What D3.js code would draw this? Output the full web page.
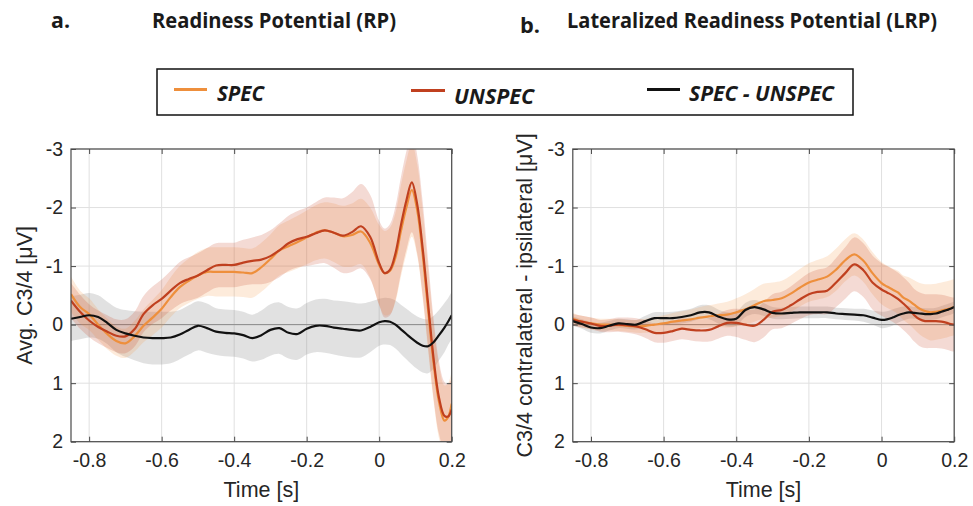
<!DOCTYPE html>
<html>
<head>
<meta charset="utf-8">
<script src="https://cdn.jsdelivr.net/npm/d3@7"></script>
<style>
  body { margin: 0; background: #fff; }
  svg { display: block; }
</style>
</head>
<body>
<svg id="chart" width="973" height="506"></svg>
<script>
// time points (s) shared by every series
const time = [
  -0.85, -0.825, -0.8, -0.775, -0.75, -0.725, -0.7, -0.675, -0.65, -0.625,
  -0.6, -0.575, -0.55, -0.525, -0.5, -0.475, -0.45, -0.425, -0.4, -0.375,
  -0.35, -0.325, -0.3, -0.275, -0.25, -0.225, -0.2, -0.175, -0.15, -0.125,
  -0.1, -0.075, -0.05, -0.025, 0, 0.015, 0.03, 0.045, 0.06, 0.075,
  0.09, 0.105, 0.12, 0.135, 0.15, 0.165, 0.18, 0.19, 0.2
];

// a. Readiness Potential (uV)
const rpSpec = [
  -0.52, -0.30, -0.18, 0.00, 0.16, 0.28, 0.32, 0.20, 0.02, -0.12,
  -0.27, -0.47, -0.64, -0.75, -0.84, -0.90, -0.90, -0.90, -0.90, -0.89,
  -0.88, -0.98, -1.12, -1.27, -1.34, -1.41, -1.49, -1.57, -1.61, -1.57,
  -1.51, -1.53, -1.59, -1.40, -1.02, -0.88, -0.92, -1.15, -1.60, -2.00,
  -2.30, -1.95, -1.20, -0.25, 0.65, 1.32, 1.64, 1.58, 1.35
];
const rpUnspec = [
  -0.41, -0.22, -0.07, 0.04, 0.12, 0.19, 0.20, 0.08, -0.18, -0.33,
  -0.44, -0.58, -0.71, -0.78, -0.84, -0.93, -1.01, -1.02, -1.02, -1.06,
  -1.09, -1.11, -1.17, -1.27, -1.39, -1.46, -1.50, -1.56, -1.61, -1.57,
  -1.52, -1.58, -1.68, -1.50, -1.05, -0.88, -0.94, -1.22, -1.70, -2.12,
  -2.43, -2.05, -1.30, -0.35, 0.58, 1.25, 1.56, 1.57, 1.45
];
const rpDiff = [
  -0.10, -0.13, -0.16, -0.13, -0.03, 0.09, 0.15, 0.19, 0.22, 0.23,
  0.23, 0.22, 0.17, 0.09, 0.02, 0.06, 0.12, 0.14, 0.15, 0.18,
  0.23, 0.18, 0.09, 0.06, 0.14, 0.16, 0.07, 0.02, 0.02, 0.05,
  0.07, 0.09, 0.10, 0.04, -0.04, -0.06, -0.05, 0.00, 0.08, 0.16,
  0.24, 0.31, 0.36, 0.37, 0.30, 0.18, 0.05, -0.05, -0.16
];
// half width of the shaded error bands
const rpSpecErr = [
  0.30, 0.28, 0.27, 0.26, 0.26, 0.25, 0.25, 0.26, 0.28, 0.30,
  0.32, 0.34, 0.36, 0.38, 0.40, 0.41, 0.42, 0.42, 0.42, 0.42,
  0.42, 0.42, 0.42, 0.43, 0.44, 0.45, 0.46, 0.47, 0.48, 0.50,
  0.52, 0.54, 0.56, 0.60, 0.68, 0.72, 0.74, 0.76, 0.78, 0.80,
  0.80, 0.78, 0.75, 0.70, 0.66, 0.62, 0.60, 0.58, 0.55
];
const rpUnspecErr = [
  0.30, 0.29, 0.28, 0.28, 0.28, 0.28, 0.29, 0.30, 0.31, 0.32,
  0.33, 0.34, 0.36, 0.37, 0.38, 0.38, 0.38, 0.38, 0.38, 0.39,
  0.40, 0.42, 0.44, 0.46, 0.47, 0.48, 0.50, 0.53, 0.56, 0.60,
  0.64, 0.68, 0.72, 0.72, 0.72, 0.76, 0.78, 0.80, 0.82, 0.84,
  0.85, 0.84, 0.80, 0.74, 0.68, 0.62, 0.58, 0.55, 0.52
];
const rpDiffErr = [
  0.38, 0.38, 0.38, 0.37, 0.36, 0.38, 0.40, 0.42, 0.44, 0.45,
  0.45, 0.44, 0.42, 0.42, 0.42, 0.42, 0.40, 0.40, 0.40, 0.40,
  0.40, 0.42, 0.44, 0.44, 0.44, 0.44, 0.44, 0.45, 0.46, 0.46,
  0.47, 0.47, 0.46, 0.43, 0.40, 0.40, 0.40, 0.41, 0.42, 0.43,
  0.44, 0.45, 0.46, 0.46, 0.45, 0.43, 0.42, 0.40, 0.40
];

// b. Lateralized Readiness Potential (uV)
const lrpSpec = [
  -0.10, -0.05, -0.02, 0.00, 0.00, 0.01, 0.02, 0.03, 0.02, 0.00,
  -0.02, -0.05, -0.07, -0.09, -0.12, -0.14, -0.16, -0.17, -0.21, -0.26,
  -0.33, -0.40, -0.42, -0.45, -0.53, -0.63, -0.72, -0.77, -0.82, -0.94,
  -1.10, -1.20, -1.09, -0.88, -0.71, -0.65, -0.60, -0.55, -0.46, -0.41,
  -0.34, -0.27, -0.23, -0.21, -0.22, -0.24, -0.26, -0.28, -0.30
];
const lrpUnspec = [
  -0.08, -0.05, -0.02, 0.02, 0.02, 0.00, 0.01, 0.03, 0.08, 0.14,
  0.14, 0.11, 0.07, 0.09, 0.10, 0.09, 0.03, -0.03, -0.03, 0.00,
  0.02, -0.08, -0.22, -0.25, -0.33, -0.43, -0.52, -0.56, -0.58, -0.72,
  -0.88, -1.03, -0.93, -0.72, -0.60, -0.55, -0.50, -0.44, -0.36, -0.27,
  -0.16, -0.09, -0.06, -0.06, -0.06, -0.05, -0.03, -0.01, 0.00
];
const lrpDiff = [
  -0.06, -0.01, 0.05, 0.06, 0.02, -0.02, -0.01, 0.00, -0.06, -0.11,
  -0.11, -0.11, -0.13, -0.16, -0.21, -0.21, -0.14, -0.09, -0.10, -0.25,
  -0.30, -0.26, -0.20, -0.19, -0.20, -0.21, -0.21, -0.21, -0.21, -0.19,
  -0.18, -0.17, -0.16, -0.12, -0.08, -0.09, -0.12, -0.16, -0.19, -0.21,
  -0.20, -0.19, -0.18, -0.18, -0.19, -0.22, -0.25, -0.27, -0.30
];
const lrpSpecErr = [
  0.10, 0.10, 0.10, 0.10, 0.10, 0.10, 0.10, 0.11, 0.12, 0.13,
  0.14, 0.15, 0.16, 0.17, 0.18, 0.19, 0.20, 0.22, 0.24, 0.26,
  0.28, 0.30, 0.30, 0.30, 0.31, 0.32, 0.33, 0.34, 0.35, 0.36,
  0.36, 0.36, 0.36, 0.36, 0.36, 0.36, 0.36, 0.37, 0.38, 0.40,
  0.42, 0.44, 0.46, 0.48, 0.48, 0.48, 0.48, 0.48, 0.48
];
const lrpUnspecErr = [
  0.10, 0.10, 0.10, 0.10, 0.11, 0.12, 0.13, 0.14, 0.15, 0.16,
  0.17, 0.17, 0.18, 0.18, 0.19, 0.20, 0.21, 0.22, 0.24, 0.26,
  0.28, 0.30, 0.30, 0.31, 0.32, 0.34, 0.36, 0.38, 0.40, 0.42,
  0.44, 0.46, 0.46, 0.46, 0.45, 0.45, 0.45, 0.45, 0.45, 0.45,
  0.45, 0.46, 0.46, 0.46, 0.46, 0.46, 0.46, 0.46, 0.46
];
const lrpDiffErr = [
  0.08, 0.08, 0.09, 0.09, 0.08, 0.08, 0.08, 0.08, 0.09, 0.10,
  0.10, 0.11, 0.11, 0.11, 0.12, 0.12, 0.12, 0.12, 0.12, 0.12,
  0.12, 0.11, 0.10, 0.10, 0.10, 0.10, 0.10, 0.10, 0.10, 0.10,
  0.10, 0.10, 0.11, 0.12, 0.14, 0.14, 0.14, 0.13, 0.12, 0.11,
  0.10, 0.10, 0.10, 0.10, 0.10, 0.10, 0.10, 0.10, 0.10
];

const xTicks = [-0.8, -0.6, -0.4, -0.2, 0, 0.2];
const yTicks = [-3, -2, -1, 0, 1, 2];
const seriesNames = ["SPEC", "UNSPEC", "SPEC - UNSPEC"];

const colors = { spec: "#ee8f3c", unspec: "#c0401f", diff: "#111111" };
const axisFont = '"Liberation Sans", Arial, sans-serif';
const titleFont = '"Open Sans", "Liberation Sans", sans-serif';
const axisColor = "#4a4a4a";

const svg = d3.select("#chart");

// strip the d3 defaults so the axis looks like a matlab box axis
function styleAxis(s, withText) {
  s.select(".domain").remove();
  s.attr("font-family", null).attr("font-size", null);
  s.selectAll(".tick line").attr("stroke", axisColor);
  if (withText) {
    s.selectAll(".tick text")
      .attr("font-family", axisFont).attr("font-size", 19.5).attr("fill", "#262626");
  }
}

function drawPanel(id, left, right, series, yLabel, labelX) {
  const top = 149, bottom = 441.7;
  const x = d3.scaleLinear().domain([-0.85, 0.2]).range([left, right]);
  const y = d3.scaleLinear().domain([-3, 2]).range([top, bottom]);
  const g = svg.append("g");

  g.append("clipPath").attr("id", "clip-" + id)
    .append("rect").attr("x", left).attr("y", top)
    .attr("width", right - left).attr("height", bottom - top);

  // grid
  const grid = g.append("g");
  grid.selectAll(".gx").data(xTicks).join("line")
    .attr("x1", d => x(d)).attr("x2", d => x(d)).attr("y1", top).attr("y2", bottom)
    .attr("stroke", "#e0e0e0");
  grid.selectAll(".gy").data(yTicks).join("line")
    .attr("x1", left).attr("x2", right).attr("y1", d => y(d)).attr("y2", d => y(d))
    .attr("stroke", "#e0e0e0");

  // zero reference
  g.append("line").attr("x1", left).attr("x2", right)
    .attr("y1", y(0)).attr("y2", y(0)).attr("stroke", "#8c8c8c").attr("stroke-width", 1);

  const plot = g.append("g").attr("clip-path", `url(#clip-${id})`);
  const curve = d3.curveCatmullRom.alpha(0.5);

  const bands = [
    { v: series.diff, e: series.diffErr, fill: "#8a8a8a", op: 0.26 },
    { v: series.spec, e: series.specErr, fill: "#f39c4b", op: 0.2 },
    { v: series.unspec, e: series.unspecErr, fill: "#c8462a", op: 0.2 }
  ];
  bands.forEach(b => {
    const area = d3.area().curve(curve)
      .x((d, i) => x(time[i]))
      .y0((d, i) => y(b.v[i] - b.e[i]))
      .y1((d, i) => y(b.v[i] + b.e[i]));
    plot.append("path").datum(b.v).attr("d", area)
      .attr("fill", b.fill).attr("fill-opacity", b.op);
  });

  const lines = [
    { v: series.spec, c: colors.spec },
    { v: series.unspec, c: colors.unspec },
    { v: series.diff, c: colors.diff }
  ];
  lines.forEach(l => {
    const line = d3.line().curve(curve).x((d, i) => x(time[i])).y(d => y(d));
    plot.append("path").datum(l.v).attr("d", line)
      .attr("fill", "none").attr("stroke", l.c).attr("stroke-width", 2.2)
      .attr("stroke-linejoin", "round");
  });

  // axes with inward ticks on all four sides
  const fmt = d => String(d);
  g.append("g").attr("transform", `translate(0,${bottom})`)
    .call(d3.axisBottom(x).tickValues(xTicks).tickSize(-5).tickPadding(11).tickFormat(fmt))
    .call(s => styleAxis(s, true));
  g.append("g").attr("transform", `translate(0,${top})`)
    .call(d3.axisTop(x).tickValues(xTicks).tickSize(-5).tickFormat(""))
    .call(s => styleAxis(s, false));
  g.append("g").attr("transform", `translate(${left},0)`)
    .call(d3.axisLeft(y).tickValues(yTicks).tickSize(-5).tickPadding(8).tickFormat(fmt))
    .call(s => styleAxis(s, true));
  g.append("g").attr("transform", `translate(${right},0)`)
    .call(d3.axisRight(y).tickValues(yTicks).tickSize(-5).tickFormat(""))
    .call(s => styleAxis(s, false));

  g.append("rect").attr("x", left).attr("y", top)
    .attr("width", right - left).attr("height", bottom - top)
    .attr("fill", "none").attr("stroke", axisColor).attr("stroke-width", 1.2);

  g.append("text").attr("x", (left + right) / 2).attr("y", 497)
    .attr("text-anchor", "middle").attr("font-family", axisFont)
    .attr("font-size", 21.5).attr("fill", "#262626").text("Time [s]");

  g.append("text")
    .attr("transform", `translate(${labelX},${(top + bottom) / 2}) rotate(-90)`)
    .attr("text-anchor", "middle").attr("font-family", axisFont)
    .attr("font-size", 21.5).attr("fill", "#262626").text(yLabel);
}

drawPanel("rp", 71, 451.7,
  { spec: rpSpec, unspec: rpUnspec, diff: rpDiff, specErr: rpSpecErr, unspecErr: rpUnspecErr, diffErr: rpDiffErr },
  "Avg. C3/4 [\u03bcV]", 32);
drawPanel("lrp", 572.8, 954.2,
  { spec: lrpSpec, unspec: lrpUnspec, diff: lrpDiff, specErr: lrpSpecErr, unspecErr: lrpUnspecErr, diffErr: lrpDiffErr },
  "C3/4 contralateral - ipsilateral [\u03bcV]", 532);

// panel titles
const titles = [
  { t: "a.", x: 51, y: 28, w: 19 },
  { t: "Readiness Potential (RP)", x: 152, y: 28, w: 244 },
  { t: "b.", x: 520, y: 33, w: 20 },
  { t: "Lateralized Readiness Potential (LRP)", x: 567, y: 28, w: 370 }
];
titles.forEach(d => {
  svg.append("text").attr("x", d.x).attr("y", d.y)
    .attr("font-family", titleFont).attr("font-weight", 700).attr("font-size", 21)
    .attr("fill", "#1a1a1a")
    .attr("textLength", d.w).attr("lengthAdjust", "spacingAndGlyphs").text(d.t);
});

// legend
svg.append("rect").attr("x", 157).attr("y", 69).attr("width", 696).attr("height", 46)
  .attr("fill", "#fff").attr("stroke", "#111").attr("stroke-width", 1.5);
const legendItems = [
  { name: seriesNames[0], c: colors.spec, x1: 174, x2: 207, ly: 89.5, tx: 217, ty: 101, w: 47 },
  { name: seriesNames[1], c: colors.unspec, x1: 411, x2: 445, ly: 90.5, tx: 454, ty: 104, w: 80 },
  { name: seriesNames[2], c: colors.diff, x1: 647, x2: 680, ly: 89.5, tx: 689, ty: 100.5, w: 145 }
];
legendItems.forEach(d => {
  svg.append("line").attr("x1", d.x1).attr("x2", d.x2).attr("y1", d.ly).attr("y2", d.ly)
    .attr("stroke", d.c).attr("stroke-width", 3);
  svg.append("text").attr("x", d.tx).attr("y", d.ty)
    .attr("font-family", titleFont).attr("font-weight", 700).attr("font-style", "italic")
    .attr("font-size", 21).attr("fill", "#1a1a1a")
    .attr("textLength", d.w).attr("lengthAdjust", "spacingAndGlyphs").text(d.name);
});
</script>
</body>
</html>
